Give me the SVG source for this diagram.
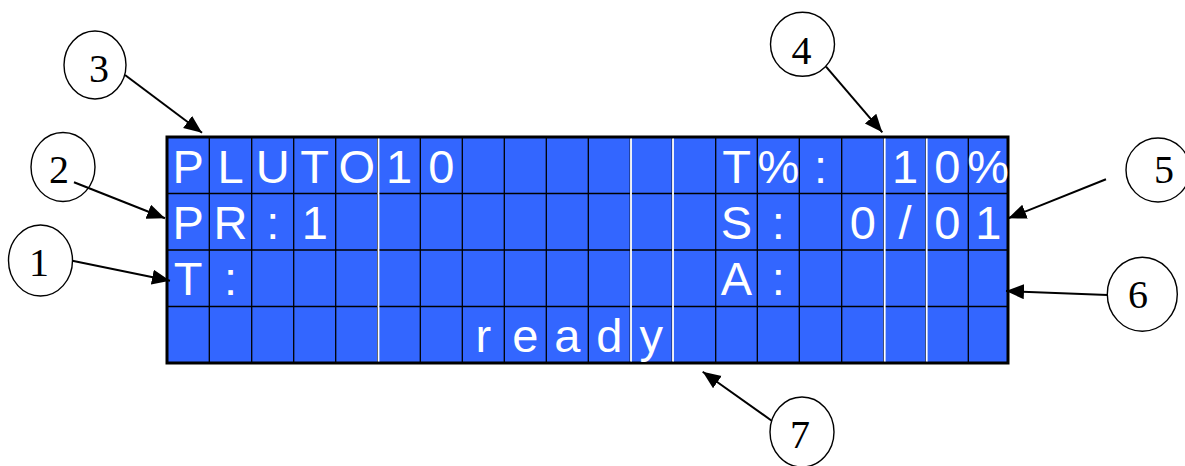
<svg xmlns="http://www.w3.org/2000/svg" width="1185" height="466" viewBox="0 0 1185 466">
<style>
.lcdbg{fill:#3366ff;stroke:#000;stroke-width:3}
.grid{stroke:#000;stroke-width:1.3;fill:none}
.wgrid{stroke:#fff;stroke-width:1.8;fill:none}
.ch{font-family:"Liberation Sans",Arial,sans-serif;font-size:47px;fill:#fff;text-anchor:middle}
.co{fill:#fff;stroke:#000;stroke-width:1.4}
.num{font-family:"Liberation Serif","Times New Roman",serif;font-size:40px;fill:#000;text-anchor:middle}
.arr{stroke:#000;stroke-width:2;fill:none;marker-end:url(#ah)}
</style>
<defs>
<marker id="ah" markerUnits="userSpaceOnUse" markerWidth="20" markerHeight="16" refX="18" refY="7.5" orient="auto">
<path d="M0,0 L18,7.5 L0,15 z" fill="#000"/>
</marker>
</defs>
<rect width="1185" height="466" fill="#fff"/>
<g id="lcd">
<rect class="lcdbg" x="167" y="137" width="841" height="226"/>
<path class="grid" d="M209.3,137V363M251.7,137V363M293.7,137V363M335.7,137V363M377.7,137V363M420.3,137V363M462.3,137V363M504.3,137V363M546.3,137V363M588.3,137V363M630.3,137V363M672.3,137V363M715.7,137V363M757.3,137V363M799.3,137V363M841.7,137V363M884,137V363M926,137V363M968.3,137V363M167,193.5H1008M167,250H1008M167,306.5H1008"/>
<path class="wgrid" d="M378.5,138.5V361.5M631,138.5V361.5M673,138.5V361.5M884.7,138.5V361.5M926.7,138.5V361.5"/>
<text class="ch" x="188.2 230.5 272.7 314.7 356.7 399 441.3" y="182.5">PLUTO10</text>
<text class="ch" x="736.5 778.3 820.5" y="182.5">T%:</text>
<text class="ch" x="905 947.2 988.2" y="182.5">10%</text>
<text class="ch" x="188.2 230.5 272.7 314.7" y="238.5">PR:1</text>
<text class="ch" x="736.5 778.3" y="238.5">S:</text>
<text class="ch" x="862.9 905 947.2 988.2" y="238.5">0/01</text>
<text class="ch" x="188.2 230.5" y="295">T:</text>
<text class="ch" x="736.5 778.3" y="295">A:</text>
<text class="ch" x="483.3 525.3 567.3 609.3 651.3" y="351.5">ready</text>
</g>
<g id="callout1"><ellipse class="co" cx="40.5" cy="260.5" rx="32" ry="35.5"/><text class="num" x="39" y="275.5">1</text></g>
<g id="callout2"><ellipse class="co" cx="63" cy="167" rx="32" ry="34.5"/><text class="num" x="59" y="183">2</text></g>
<g id="callout3"><ellipse class="co" cx="95" cy="65" rx="31" ry="34"/><text class="num" x="99" y="81.5">3</text></g>
<g id="callout4"><ellipse class="co" cx="802.5" cy="44.3" rx="32" ry="32"/><text class="num" x="801.5" y="64">4</text></g>
<g id="callout5"><ellipse class="co" cx="1158" cy="170" rx="32" ry="32"/><text class="num" x="1164" y="183">5</text></g>
<g id="callout6"><ellipse class="co" cx="1142.3" cy="294.2" rx="35" ry="37"/><text class="num" x="1138" y="308">6</text></g>
<g id="callout7"><ellipse class="co" cx="802" cy="432" rx="32" ry="35"/><text class="num" x="800" y="448">7</text></g>
<g id="connectors">
<line class="arr" x1="72.3" y1="260.7" x2="170" y2="280.7"/>
<line class="arr" x1="74" y1="182.3" x2="165" y2="218.3"/>
<line class="arr" x1="125" y1="75" x2="202" y2="132.7"/>
<line class="arr" x1="826" y1="66.7" x2="882.3" y2="132.3"/>
<line class="arr" x1="1106" y1="179.3" x2="1008.3" y2="218.3"/>
<line class="arr" x1="1107.7" y1="295" x2="1006" y2="291"/>
<line class="arr" x1="771.7" y1="420.7" x2="702.7" y2="371.7"/>
</g>
</svg>
